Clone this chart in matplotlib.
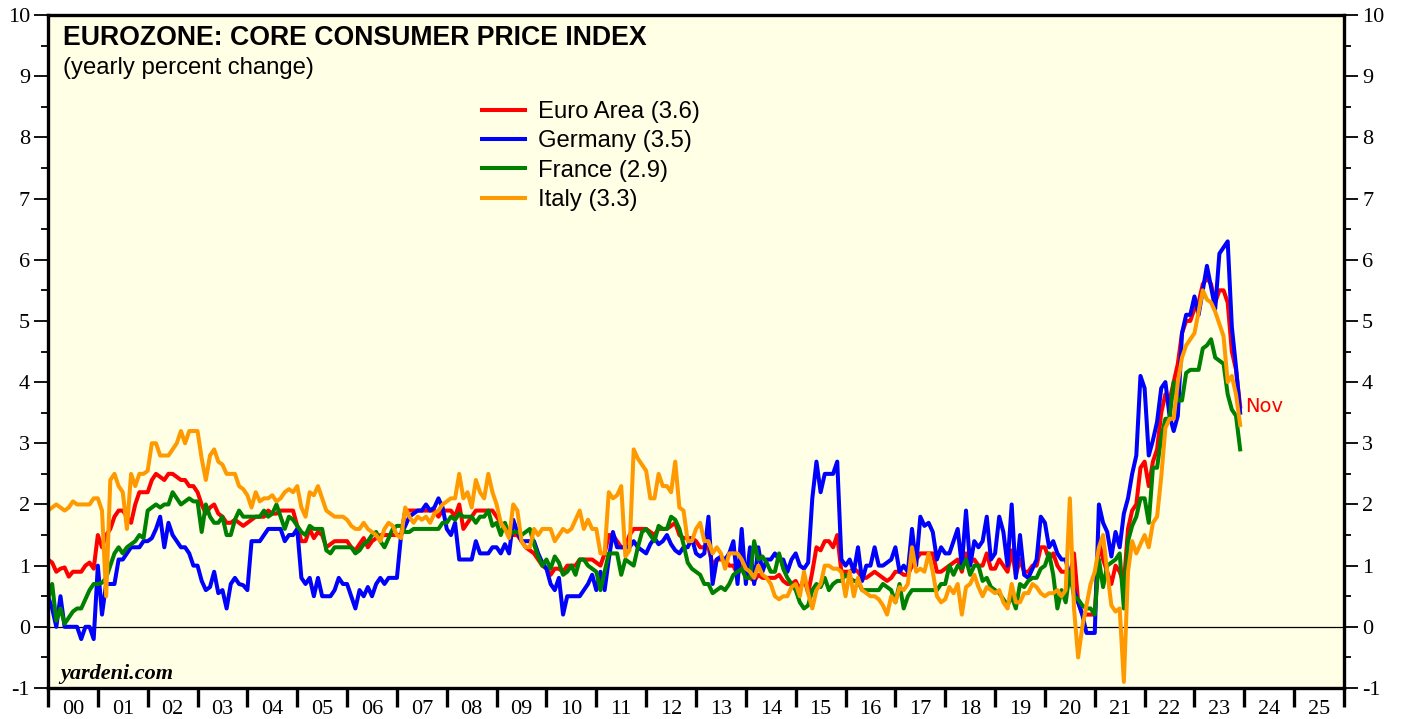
import numpy as np
import matplotlib.pyplot as plt
from matplotlib.ticker import MultipleLocator, FixedLocator, NullFormatter

plt.rcParams['axes.unicode_minus'] = False

W, H = 1403, 719

# monthly yearly % changes; point 0 sits at the start of 2000, last point = Nov 2023
euro_area = [
    1.1, 1.05, 0.9, 0.95, 0.97, 0.82, 0.9, 0.9, 0.9, 1.0, 1.05, 0.95,
    1.5, 1.3, 1.5, 1.6, 1.8, 1.9, 1.9, 1.8, 1.7, 2.0, 2.2, 2.2,
    2.2, 2.4, 2.5, 2.45, 2.4, 2.5, 2.5, 2.45, 2.4, 2.4, 2.3, 2.3,
    2.2, 2.0, 1.85, 1.95, 2.0, 1.85, 1.8, 1.7, 1.7, 1.75, 1.7, 1.65,
    1.7, 1.75, 1.8, 1.8, 1.8, 1.9, 1.85, 1.85, 1.9, 1.9, 1.9, 1.9,
    1.65, 1.4, 1.4, 1.6, 1.45, 1.55, 1.5, 1.3, 1.35, 1.4, 1.4, 1.4,
    1.4, 1.3, 1.25, 1.35, 1.45, 1.3, 1.4, 1.45, 1.5, 1.5, 1.5, 1.5,
    1.5, 1.5, 1.9, 1.9, 1.9, 1.9, 1.9, 1.9, 1.9, 1.9, 1.8, 1.9,
    1.9, 1.9, 1.8, 2.0, 1.6, 1.7, 1.8, 1.9, 1.9, 1.9, 1.9, 1.9,
    1.8, 1.7, 1.6, 1.55, 1.5, 1.5, 1.4, 1.3, 1.25, 1.2, 1.1, 1.0,
    0.95, 0.85, 0.95, 0.95, 0.9, 1.0, 1.0, 1.0, 1.1, 1.1, 1.1, 1.1,
    1.05, 1.0, 1.2, 1.5, 1.5, 1.4, 1.3, 1.3, 1.5, 1.6, 1.6, 1.6,
    1.6, 1.55, 1.5, 1.6, 1.6, 1.6, 1.65, 1.7, 1.5, 1.45, 1.45, 1.45,
    1.4, 1.3, 1.3, 1.3, 1.0, 1.1, 1.1, 1.1, 1.0, 1.0, 0.85, 1.0,
    0.85, 0.8, 0.75, 0.85, 0.8, 0.8, 0.8, 0.8, 0.85, 0.75, 0.7, 0.7,
    0.75, 0.6, 0.8, 0.55, 0.9, 1.3, 1.25, 1.4, 1.4, 1.3, 1.5, 0.9,
    0.9, 0.9, 0.95, 0.9, 0.8, 0.8, 0.85, 0.9, 0.85, 0.8, 0.75, 0.8,
    0.9, 0.9, 0.85, 0.85, 1.0, 1.1, 1.2, 1.2, 1.2, 1.2, 0.9, 0.9,
    0.95, 1.0, 1.05, 1.1, 0.9, 1.2, 1.05, 1.1, 1.0, 1.0, 1.2, 0.95,
    0.95, 1.1, 1.0, 0.9, 1.25, 0.85, 1.1, 0.9, 0.9, 1.0, 1.0, 1.3,
    1.3, 1.1, 1.2, 1.0, 0.9, 0.9, 0.8, 1.2, 0.4, 0.2, 0.2, 0.2,
    0.2, 1.4, 1.1, 0.9, 0.7, 1.0, 0.9, 0.7, 1.6, 1.9, 2.0, 2.6,
    2.7, 2.3, 2.7, 2.9, 3.5, 3.8, 3.7, 4.0, 4.3, 4.8, 5.0, 5.0,
    5.2, 5.3, 5.6, 5.7, 5.6, 5.3, 5.5, 5.5, 5.3, 4.5, 4.2, 3.6,
]
germany = [
    0.5, 0.3, 0.0, 0.5, 0.0, 0.0, 0.0, 0.0, -0.2, 0.0, 0.0, -0.2,
    1.0, 0.2, 0.7, 0.7, 0.7, 1.1, 1.1, 1.2, 1.3, 1.3, 1.3, 1.4,
    1.4, 1.45, 1.6, 1.8, 1.3, 1.7, 1.5, 1.4, 1.3, 1.3, 1.2, 1.0,
    1.0, 0.75, 0.6, 0.65, 0.9, 0.55, 0.6, 0.3, 0.7, 0.8, 0.7, 0.68,
    0.6, 1.4, 1.4, 1.4, 1.5, 1.6, 1.6, 1.6, 1.6, 1.4, 1.5, 1.5,
    1.6, 0.8, 0.7, 0.8, 0.5, 0.8, 0.5, 0.5, 0.5, 0.6, 0.8, 0.7,
    0.7, 0.5, 0.3, 0.6, 0.5, 0.65, 0.5, 0.7, 0.8, 0.7, 0.8, 0.8,
    0.8, 1.5, 1.65, 1.8, 1.85, 1.9, 1.9, 2.0, 1.9, 1.95, 2.1, 1.95,
    1.6, 1.5, 1.7, 1.1, 1.1, 1.1, 1.1, 1.4, 1.2, 1.2, 1.2, 1.3,
    1.3, 1.2, 1.35, 1.2, 1.75, 1.55, 1.4, 1.4, 1.4, 1.4, 1.2, 1.05,
    0.95, 0.7, 0.6, 0.8, 0.2, 0.5, 0.5, 0.5, 0.5, 0.6, 0.7, 0.85,
    0.6, 0.9, 0.6, 1.1, 1.55, 1.3, 1.3, 1.3, 1.3, 1.4, 1.3, 1.25,
    1.2, 1.35, 1.45, 1.35, 1.4, 1.5, 1.35, 1.25, 1.2, 1.3, 1.3, 1.45,
    1.2, 1.15, 1.2, 1.8, 0.7, 1.1, 1.15, 1.1, 1.2, 1.4, 0.7, 1.6,
    0.7, 1.3, 0.7, 1.3, 0.9, 1.1, 1.1, 1.2, 1.1, 1.1, 0.9, 1.1,
    1.2, 1.0, 0.95, 1.05, 2.1, 2.7, 2.2, 2.5, 2.5, 2.5, 2.7, 1.1,
    1.0, 1.1, 0.9, 1.3, 0.75, 1.0, 1.0, 1.3, 1.0, 1.0, 1.05, 1.1,
    1.3, 0.9, 1.0, 0.9, 1.6, 1.0, 1.8, 1.65, 1.7, 1.55, 1.1, 1.3,
    1.2, 1.2, 1.4, 1.6, 1.0, 1.9, 1.0, 1.4, 1.3, 1.4, 1.8, 1.1,
    1.2, 1.8, 1.55, 1.0, 2.0, 0.8, 1.5, 0.85, 0.8, 0.95, 1.1, 1.8,
    1.7, 1.3, 1.4, 1.2, 1.1, 1.1, 0.8, 0.6, 0.4, 0.2, -0.1, -0.1,
    -0.1, 2.0, 1.7, 1.55, 1.15, 1.55, 1.3, 1.85, 2.1, 2.5, 2.8, 4.1,
    3.9, 2.8, 3.05, 3.35, 3.9, 4.0, 3.45, 3.2, 3.45, 4.8, 5.1, 5.1,
    5.4, 5.1, 5.5, 5.9, 5.55, 5.2, 6.1, 6.2, 6.3, 4.9, 4.25, 3.5,
]
france = [
    0.45, 0.7, 0.1, 0.3, 0.05, 0.15, 0.25, 0.3, 0.3, 0.45, 0.6, 0.7,
    0.7, 0.72, 0.8, 1.0, 1.2, 1.3, 1.2, 1.3, 1.35, 1.4, 1.5, 1.45,
    1.9, 1.95, 2.0, 1.95, 2.0, 2.0, 2.2, 2.1, 2.0, 2.05, 2.1, 2.05,
    2.05, 1.55, 2.0, 1.8, 1.7, 1.7, 1.8, 1.5, 1.5, 1.75, 1.9, 1.8,
    1.8, 1.8, 1.8, 1.8, 1.9, 1.8, 1.85, 2.0, 1.8, 1.6, 1.8, 1.75,
    1.65, 1.55, 1.5, 1.65, 1.6, 1.6, 1.6, 1.25, 1.2, 1.3, 1.3, 1.3,
    1.3, 1.3, 1.2, 1.25, 1.35, 1.4, 1.5, 1.55, 1.4, 1.3, 1.45, 1.6,
    1.65, 1.65, 1.55, 1.55, 1.6, 1.6, 1.6, 1.6, 1.6, 1.6, 1.6, 1.7,
    1.7, 1.8, 1.75, 1.85, 1.8, 1.8, 1.8, 1.7, 1.8, 1.8, 1.9, 1.65,
    1.7, 1.5, 1.7, 1.5, 1.55, 1.55, 1.5, 1.55, 1.6, 1.35, 1.15, 1.0,
    1.1, 0.95, 1.15, 1.05, 0.85, 0.9, 1.0, 0.85, 1.1, 1.1, 1.0, 0.95,
    0.9, 0.6, 0.9, 1.2, 1.2, 1.2, 0.85, 1.1, 1.05, 1.0, 1.3, 1.55,
    1.6, 1.5, 1.4, 1.65, 1.6, 1.6, 1.8, 1.75, 1.6, 1.35, 1.05, 0.95,
    0.9, 0.85, 0.7, 0.7, 0.55, 0.6, 0.65, 0.6, 0.7, 0.85, 0.9, 0.95,
    0.8, 0.8, 1.4, 1.1, 1.15, 1.05, 0.9, 0.9, 1.2, 0.95, 0.8, 0.7,
    0.6, 0.4, 0.3, 0.35, 0.6, 0.7, 0.65, 0.8, 0.6, 0.7, 0.75, 0.75,
    0.85, 0.8, 0.75, 0.75, 0.6, 0.6, 0.6, 0.6, 0.6, 0.7, 0.65, 0.6,
    0.4, 0.7, 0.3, 0.5, 0.6, 0.6, 0.6, 0.6, 0.6, 0.6, 0.6, 0.7,
    0.7, 1.0, 0.85, 1.0, 0.95, 1.1, 0.85, 1.0, 1.0, 0.75, 0.8, 0.65,
    0.6, 0.55, 0.45, 0.35, 0.5, 0.3, 0.7, 0.65, 0.75, 0.8, 0.8, 0.95,
    1.0, 1.2, 0.85, 0.3, 0.6, 0.4, 0.9, 0.5, 0.45, 0.35, 0.3, 0.3,
    0.2, 1.1, 0.65, 1.0, 1.05, 1.1, 1.2, 0.3, 1.4, 1.65, 1.8, 2.1,
    2.1, 1.7, 2.6, 2.6, 3.1, 3.4, 3.4, 4.0, 3.7, 3.7, 4.15, 4.2,
    4.2, 4.2, 4.55, 4.6, 4.7, 4.4, 4.35, 4.3, 3.8, 3.55, 3.45, 2.9,
]
italy = [
    1.9, 1.95, 2.0, 1.95, 1.9, 1.95, 2.05, 2.0, 2.0, 2.0, 2.0, 2.1,
    2.1, 1.9, 0.5, 2.4, 2.5, 2.3, 2.2, 1.6, 2.5, 2.3, 2.5, 2.5,
    2.55, 3.0, 3.0, 2.8, 2.8, 2.8, 2.9, 3.0, 3.2, 3.0, 3.2, 3.2,
    3.2, 2.75, 2.4, 2.8, 2.9, 2.7, 2.65, 2.5, 2.5, 2.5, 2.3, 2.25,
    2.15, 1.95, 2.2, 2.05, 2.1, 2.1, 2.15, 2.05, 2.1, 2.2, 2.25, 2.2,
    2.3, 1.95, 1.8, 2.2, 2.15, 2.3, 2.1, 1.9, 1.85, 1.8, 1.8, 1.8,
    1.75, 1.65, 1.6, 1.6, 1.7, 1.6, 1.55, 1.5, 1.4, 1.6, 1.7, 1.65,
    1.5, 1.45, 1.95, 1.8, 1.7, 1.8, 1.75, 1.8, 1.7, 1.85, 1.9, 2.0,
    2.05, 2.1, 2.1, 2.5, 2.1, 2.2, 1.95, 2.4, 2.2, 2.1, 2.5, 2.2,
    2.0, 1.7, 1.6, 1.45, 2.0, 1.9, 1.4, 1.3, 1.3, 1.6, 1.5, 1.6,
    1.6, 1.6, 1.4, 1.5, 1.6, 1.55, 1.6, 1.75, 1.9, 1.6, 1.75, 1.6,
    1.6, 1.2, 1.2, 2.2, 2.1, 2.15, 2.3, 1.15, 1.25, 2.9, 2.75, 2.65,
    2.55, 2.1, 2.1, 2.5, 2.3, 2.3, 2.2, 2.7, 1.95, 1.9, 1.4, 1.4,
    1.6, 1.7, 1.4, 1.4, 1.2, 1.3, 1.2, 0.95, 1.2, 1.2, 1.2, 1.1,
    0.95, 0.9, 0.8, 1.0, 0.85, 0.8, 0.7, 0.5, 0.45, 0.5, 0.5, 0.65,
    0.7, 0.5, 0.9, 0.55, 0.3, 0.6, 0.7, 1.0, 1.0, 0.95, 0.95, 0.9,
    0.5, 0.9, 0.5, 0.8, 0.6, 0.55, 0.5, 0.5, 0.45, 0.35, 0.2, 0.5,
    0.4, 0.65, 0.6, 0.7, 1.3, 0.9, 0.95, 0.9, 1.2, 0.9, 0.5, 0.4,
    0.45, 0.65, 0.55, 0.7, 0.2, 0.65, 0.7, 0.85, 0.65, 0.5, 0.65, 0.6,
    0.55, 0.6, 0.4, 0.3, 0.7, 0.4, 0.4, 0.55, 0.55, 0.7, 0.65, 0.55,
    0.5, 0.55, 0.55, 0.6, 0.5, 0.6, 2.1, 0.3, -0.5, 0.0, 0.35, 0.7,
    0.9, 1.3, 1.5, 0.9, 0.35, 0.25, 0.3, -0.9, 0.9, 1.4, 1.2, 1.35,
    1.5, 1.3, 1.7, 1.8, 2.45, 3.25, 3.4, 3.4, 4.0, 4.4, 4.6, 4.7,
    4.8, 5.15, 5.5, 5.35, 5.3, 5.15, 4.95, 4.75, 4.0, 4.1, 3.8, 3.3,
]

labels = ['Euro Area (3.6)', 'Germany (3.5)', 'France (2.9)', 'Italy (3.3)']
colors = ['#FF0000', '#0000FF', '#008000', '#FF9900']
year_labels = ['%02d' % y for y in range(0, 26)]

t = 2000 + np.arange(len(euro_area)) / 12.0

fig = plt.figure(figsize=(W / 100, H / 100), dpi=100)
fig.patch.set_facecolor('white')
ax = fig.add_axes([48 / W, 31 / H, (1344 - 48) / W, (688 - 15) / H])
ax.set_facecolor('#FFFFE5')

for vals, lab, c in zip([euro_area, germany, france, italy], labels, colors):
    ax.plot(t, vals, color=c, lw=2.9, label=lab, solid_joinstyle='round')

ax.axhline(0, color='black', lw=0.9, zorder=1)

ax.set_xlim(2000, 2026)
ax.set_ylim(-1, 10)

for s in ax.spines.values():
    s.set_linewidth(2.4)

serif = 'Liberation Serif'
ax.yaxis.set_major_locator(MultipleLocator(1))
ax.yaxis.set_minor_locator(MultipleLocator(0.5))
ax.tick_params(axis='y', which='both', direction='out', left=True, right=True,
               labelleft=True, labelright=True)
ax.tick_params(axis='y', which='major', length=10, width=1.3, pad=3)
ax.tick_params(axis='y', which='minor', length=5, width=1.3)
for lbl in ax.get_yticklabels():
    lbl.set_fontfamily(serif)
    lbl.set_fontsize(16)

ax.xaxis.set_major_locator(FixedLocator(range(2000, 2027)))
ax.xaxis.set_major_formatter(NullFormatter())
ax.xaxis.set_minor_locator(FixedLocator([y + 0.5 for y in range(2000, 2026)]))
ax.set_xticklabels(year_labels, minor=True, fontfamily=serif, fontsize=16)
ax.tick_params(axis='x', which='major', direction='out', length=14, width=2.4)
ax.tick_params(axis='x', which='minor', length=0, pad=9)

fig.text(63 / W, 1 - 25 / H, 'EUROZONE: CORE CONSUMER PRICE INDEX',
         fontsize=19.2, fontweight='bold', family='Liberation Sans', va='top')
fig.text(63 / W, 1 - 57 / H, '(yearly percent change)',
         fontsize=17.2, family='Liberation Sans', va='top')

ax.legend(loc='upper left', bbox_to_anchor=(482 / W, 1 - 101 / H),
          bbox_transform=fig.transFigure, frameon=False,
          prop={'family': 'Liberation Sans', 'size': 17.2},
          handlelength=1.8, handletextpad=0.55, labelspacing=0.31,
          borderpad=0, borderaxespad=0)

ax.text(t[-1] + 0.1, euro_area[-1], 'Nov', color='#FF0000', fontsize=14,
        family='DejaVu Sans', va='center', ha='left')

ax.text((60 - 48) / (1344 - 48), 0.006, 'yardeni.com',
        transform=ax.transAxes, fontsize=16, fontweight='bold', style='italic',
        family=serif, va='bottom')

fig.savefig('out.png', dpi=100)
